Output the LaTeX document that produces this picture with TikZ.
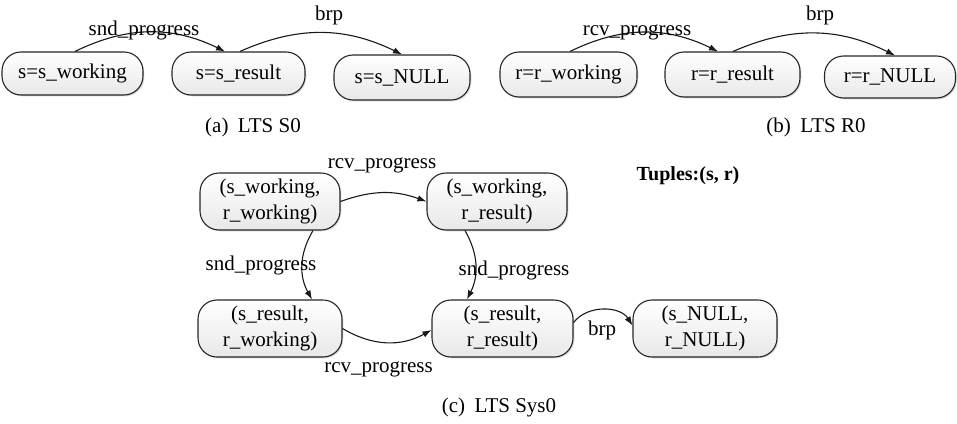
\documentclass[tikz,border=0pt]{standalone}
\usepackage{fontspec}
\setmainfont{Liberation Serif}
\usetikzlibrary{arrows.meta,shadows}
\newcommand\ltsfont{\fontsize{21}{25.5}\selectfont}
\tikzset{
  state/.style={draw=black!85, line width=1.1pt, rounded corners=19pt,
    top color=white, bottom color=black!9,
    drop shadow={shadow xshift=1.3pt, shadow yshift=-1.3pt, opacity=0.3},
    align=center, inner sep=0pt, font=\ltsfont},
  trans/.style={-{Latex[length=9pt,width=6.5pt]}, line width=1.1pt, draw=black!90},
  lbl/.style={anchor=base, inner sep=0pt, font=\ltsfont},
}
\begin{document}
\begin{tikzpicture}[x=1pt,y=1pt]
\useasboundingbox (0,0) rectangle (957,-423);

% (a) sender LTS
\node[state, minimum width=141pt, minimum height=43pt] (a1) at (72.5,-73.5) {s=s\_working};
\node[state, minimum width=133pt, minimum height=43pt] (a2) at (238.5,-73.5) {s=s\_result};
\node[state, minimum width=136pt, minimum height=45pt] (a3) at (402,-77.5) {s=s\_NULL};
\draw[trans] ([xshift=2.5pt]a1.north) to[bend left=26] ([xshift=-13.5pt]a2.north);
\draw[trans] ([xshift=1.5pt]a2.north) to[bend left=25] (a3.north);
\node[lbl] (la1) at (144,-35) {snd\_progress};
\node[lbl] (la2) at (329,-20) {brp};
\node[lbl] (capa) at (253,-132) {(a)\hspace{0.45em}LTS S0};

% (b) receiver LTS
\node[state, minimum width=137pt, minimum height=45pt] (b1) at (568.5,-74.5) {r=r\_working};
\node[state, minimum width=135pt, minimum height=45pt] (b2) at (732.5,-74.5) {r=r\_result};
\node[state, minimum width=131pt, minimum height=42pt] (b3) at (890,-77) {r=r\_NULL};
\draw[trans] ([xshift=1.5pt]b1.north) to[bend left=26] ([xshift=-14.5pt]b2.north);
\draw[trans] ([xshift=0.5pt]b2.north) to[bend left=25] ([xshift=5pt]b3.north);
\node[lbl] (lb1) at (637,-35) {rcv\_progress};
\node[lbl] (lb2) at (820,-20) {brp};
\node[lbl] (capb) at (816,-132) {(b)\hspace{0.45em}LTS R0};

% (c) composed system LTS
\node[lbl, font=\fontsize{20}{24}\selectfont\bfseries] (tup) at (688,-180) {Tuples:(s, r)};
\node[state, minimum width=140pt, minimum height=57pt] (c1) at (270,-201.5) {(s\_working,\\r\_working)};
\node[state, minimum width=140pt, minimum height=57pt] (c2) at (497,-201.5) {(s\_working,\\r\_result)};
\node[state, minimum width=144pt, minimum height=57pt] (c3) at (270,-328.5) {(s\_result,\\r\_working)};
\node[state, minimum width=141pt, minimum height=57pt] (c4) at (502.5,-328.5) {(s\_result,\\r\_result)};
\node[state, minimum width=144pt, minimum height=57pt] (c5) at (705,-328.5) {(s\_NULL,\\r\_NULL)};
\draw[trans] (c1.east) to[bend left=20] (c2.west);
\draw[trans] ([xshift=43pt]c1.south) to[bend right=30] ([xshift=42pt]c3.north);
\draw[trans] ([xshift=-32pt]c2.south) to[bend left=28] ([xshift=-35.5pt]c4.north);
\draw[trans] (c3.east) to[bend right=30] ([yshift=-1.5pt]c4.west);
\draw[trans] ([yshift=6pt]c4.east) to[bend left=55] ([yshift=3pt]c5.west);
\node[lbl] (lc1) at (382,-168) {rcv\_progress};
\node[lbl] (lc2) at (261,-270) {snd\_progress};
\node[lbl] (lc3) at (514,-275) {snd\_progress};
\node[lbl] (lc4) at (378.5,-372) {rcv\_progress};
\node[lbl] (lc5) at (602,-335) {brp};
\node[lbl] (capc) at (499,-412) {(c)\hspace{0.45em}LTS Sys0};
\end{tikzpicture}
\end{document}
